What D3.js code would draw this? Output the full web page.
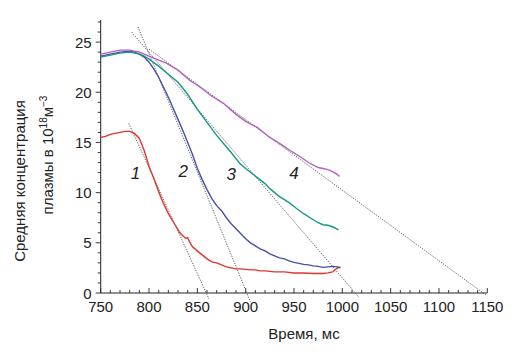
<!DOCTYPE html>
<html><head><meta charset="utf-8">
<script src="https://cdn.jsdelivr.net/npm/d3@7"></script>
<style>body{margin:0;background:#fff}svg{display:block}</style>
</head><body><svg id="c" width="518" height="355"></svg>
<script>
const xTicks = [750,800,850,900,950,1000,1050,1100,1150];
const yTicks = [0,5,10,15,20,25];
const seriesNames = ["1","2","3","4"];
const seriesColors = ["#e3342d","#4a4fa6","#17968a","#b45fc2"];

const t1 = [750,755,760,765,770,775,780,785,790,795,800,805,810,815,820,825,832,836,838,840,842,845,850,855,860,865,870,875,880,885,890,895,900,905,910,915,920,930,940,950,960,970,980,985,990,995,998];
const v1 = [15.5,15.6,15.8,15.9,16.0,16.1,16.1,15.9,15.4,14.2,12.6,11.4,10.1,8.9,7.9,7.1,6.0,5.6,5.45,5.5,5.1,4.6,4.2,3.8,3.4,3.1,3.0,2.8,2.6,2.5,2.4,2.4,2.35,2.3,2.3,2.2,2.2,2.1,2.1,2.0,2.0,1.95,1.95,2.0,2.1,2.5,2.6];

const t2 = [750,760,770,780,785,790,795,800,805,810,815,820,825,830,835,840,845,850,855,860,865,870,875,880,885,890,895,900,905,910,915,920,925,930,935,940,945,950,955,960,965,970,975,980,985,990,995,998];
const v2 = [23.6,23.8,24.0,24.1,24.0,23.8,23.5,23.0,22.3,21.5,20.5,19.5,18.4,17.3,16.2,15.0,13.8,12.4,11.3,10.3,9.4,8.7,8.2,7.5,6.9,6.4,5.9,5.4,5.0,4.7,4.4,4.2,3.9,3.7,3.5,3.4,3.2,3.05,2.95,2.85,2.8,2.7,2.65,2.55,2.6,2.65,2.6,2.5];

const t3 = [750,760,770,780,785,790,795,800,810,820,830,840,850,860,870,877,885,894,900,912,920,925,935,945,953,960,970,975,980,985,990,996];
const v3 = [23.5,23.7,23.9,24.0,23.9,23.8,23.6,23.3,22.6,21.8,21.0,19.8,18.3,17.0,15.7,14.9,14.0,12.9,12.4,11.5,10.9,10.4,9.6,9.0,8.4,7.9,7.3,7.0,6.8,6.75,6.6,6.3];

const t4 = [750,760,770,780,790,800,810,818,830,842,853,865,877,890,900,912,925,935,946,956,965,975,980,985,990,995,997];
const v4 = [23.8,24.0,24.2,24.2,24.0,23.6,23.2,22.9,22.2,21.2,20.5,19.6,18.9,17.8,17.1,16.5,15.5,14.9,14.2,13.6,13.0,12.5,12.4,12.3,12.1,11.8,11.6];

// fitted dotted lines: [t start, t end] and [v start, v end]
const fitT = [[779,862],[788.7,905],[782,1017],[800,1150]];
const fitV = [[16.9,-0.6],[26.5,-0.9],[26.0,-0.4],[24.3,-0.3]];

// curve number labels
const labelT = [786,835.5,885,950];
const labelV = [12.0,12.2,11.9,12.0];

const svg = d3.select("#c");
const x = d3.scaleLinear().domain([750,1150]).range([100.7,487.3]);
const y = d3.scaleLinear().domain([0,27.2]).range([293,20]);
const font = "'Liberation Sans', Arial, sans-serif";

// axes
const xMinor = d3.range(750,1151,10);
const yMinor = d3.range(0,28,1);
const gx = svg.append("g").attr("transform",`translate(0,${y(0)})`);
gx.append("line").attr("x1",x(750)).attr("x2",x(1150)).attr("stroke","#222").attr("stroke-width",1);
gx.selectAll(".mn").data(xMinor).join("line").attr("x1",d=>x(d)).attr("x2",d=>x(d)).attr("y1",0).attr("y2",d=>xTicks.includes(d)?-5:-3).attr("stroke","#222").attr("stroke-width",0.9);
gx.selectAll("text").data(xTicks).join("text").attr("x",d=>x(d)).attr("y",19).attr("text-anchor","middle").attr("font-family",font).attr("font-size",15).attr("fill","#222").text(d=>d);

const gy = svg.append("g").attr("transform",`translate(${x(750)},0)`);
gy.append("line").attr("y1",y(0)).attr("y2",y(27.2)).attr("stroke","#222").attr("stroke-width",1);
gy.selectAll(".mn").data(yMinor).join("line").attr("y1",d=>y(d)).attr("y2",d=>y(d)).attr("x1",0).attr("x2",d=>yTicks.includes(d)?-5:-3).attr("stroke","#222").attr("stroke-width",0.9);
gy.selectAll("text").data(yTicks).join("text").attr("x",-9).attr("y",d=>y(d)+5.5).attr("text-anchor","end").attr("font-family",font).attr("font-size",15).attr("fill","#222").text(d=>d);

// fit lines
fitT.forEach((ft,i)=>{
  svg.append("line").attr("x1",x(ft[0])).attr("y1",y(fitV[i][0])).attr("x2",x(ft[1])).attr("y2",y(fitV[i][1]))
    .attr("stroke","#555").attr("stroke-width",0.9).attr("stroke-dasharray","1.3,1.3");
});

// curves
const data = [[t1,v1],[t2,v2],[t3,v3],[t4,v4]];
const line = d3.line().x(d=>x(d[0])).y(d=>y(d[1]));
data.forEach((s,i)=>{
  const pts = s[0].map((t,j)=>[t,s[1][j]]);
  svg.append("path").attr("d",line(pts)).attr("fill","none").attr("stroke",seriesColors[i]).attr("stroke-width",1.4);
});

// curve labels
seriesNames.forEach((n,i)=>{
  svg.append("text").attr("x",x(labelT[i])).attr("y",y(labelV[i])+6).attr("text-anchor","middle")
    .attr("font-family",font).attr("font-size",17).attr("font-style","italic").attr("fill","#222").text(n);
});

// axis titles
svg.append("text").attr("x",304).attr("y",339).attr("text-anchor","middle").attr("font-family",font).attr("font-size",15).attr("fill","#222").text("Время, мс");
const yl = svg.append("g").attr("font-family",font).attr("font-size",15).attr("fill","#222");
yl.append("text").attr("transform","translate(25,181) rotate(-90)").attr("text-anchor","middle").text("Средняя концентрация");
const t2l = yl.append("text").attr("transform","translate(53,155) rotate(-90)").attr("text-anchor","middle");
t2l.append("tspan").text("плазмы в 10");
t2l.append("tspan").attr("font-size",10).attr("dy",-6).text("18");
t2l.append("tspan").attr("dy",6).text("м");
t2l.append("tspan").attr("font-size",10).attr("dy",-6).text("−3");
</script></body></html>
